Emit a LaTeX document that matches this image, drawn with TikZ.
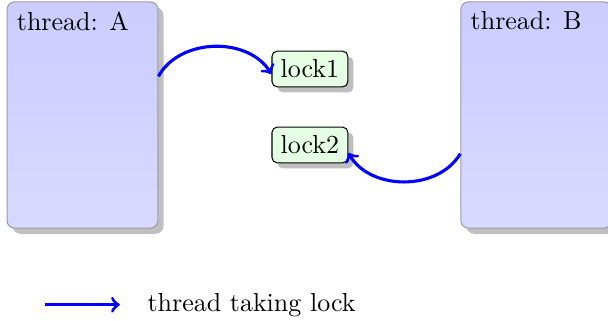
\documentclass[tikz,border=0pt]{standalone}
\usetikzlibrary{calc}
\usetikzlibrary{positioning}
\usetikzlibrary{shadows}
\tikzset{
	threadbox/.style={
		rectangle, 
		rounded corners=3pt, 
		top color=blue!20,
		bottom color=blue!15,
		draw=blue!20!black!40, 
		minimum width=2.04cm, 
		minimum height=3.06cm, 
		drop shadow},
	threadname/.style={anchor=north west, inner sep=3.8pt},
	lockbox/.style={
		rectangle, 
		rounded corners=2pt, 
		fill=green!10,
		draw=black, 
		drop shadow},
	takes/.style={draw=blue, very thick, ->},
}

\begin{document}
\begin{tikzpicture}
	\path[use as bounding box] (0,0) rectangle (8.22,-4.33);
	% threads
	\node[threadbox] (A) at (1.115,-1.555) {};
	\node[threadbox] (B) at (7.25,-1.555) {};
	\node[threadname] (Aname) at (A.north west) {thread: A};
	\node[threadname] (Bname) at (B.north west) {thread: B};
	% locks
	\node[lockbox] (lock1) at (4.19,-0.933) {lock1};
	\node[lockbox] (lock2) at (4.19,-1.96) {lock2};
	\coordinate (takeA) at ($(A.north east)!0.33!(A.south east)$);
	\coordinate (takeB) at ($(B.north west)!0.67!(B.south west)$);
	\draw[takes] (takeA) to[bend left=60] ([yshift=-2pt]lock1.west);
	\draw[takes] (takeB) to[bend left=60] ([yshift=-3pt]lock2.east);
	% legend
	\coordinate (legstart) at (0.61,-4.12);
	\coordinate[right=1.01cm of legstart] (legend);
	\draw[takes] (legstart) -- (legend);
	\node[right=0.25cm of legend] (legtext) {thread taking lock};
\end{tikzpicture}
\end{document}
